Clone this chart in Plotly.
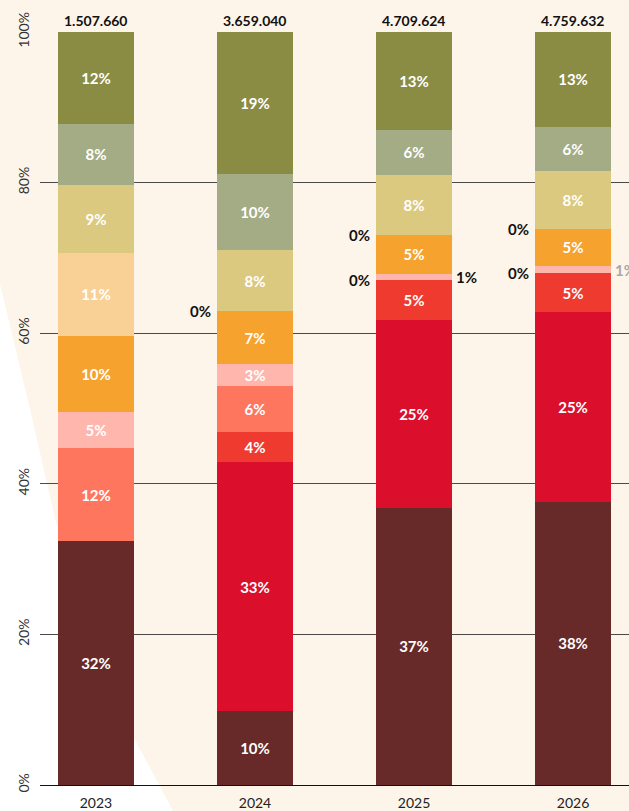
import plotly.graph_objects as go

# ---------------- data ----------------
years = ["2023", "2024", "2025", "2026"]
totals = [1507660, 3659040, 4709624, 4759632]

# series, bottom to top (percent share of each year's total)
s_brown = [32.4, 9.8, 36.8, 37.6]
s_crimson = [None, 33.1, 25.0, 25.2]
s_red = [None, 4.0, 5.2, 5.2]
s_salmon = [12.3, 6.1, 0, 0]
s_pink = [4.9, 2.9, 0.9, 0.9]
s_orange = [10.0, 7.0, 5.2, 5.0]
s_peach = [11.1, 0, 0, 0]
s_yellow = [9.0, 8.1, 7.9, 7.7]
s_sage = [8.1, 10.1, 6.0, 5.8]
s_olive = [12.2, 18.9, 13.0, 12.6]

series = [s_brown, s_crimson, s_red, s_salmon, s_pink,
          s_orange, s_peach, s_yellow, s_sage, s_olive]
names = ["Serie 1", "Serie 2", "Serie 3", "Serie 4", "Serie 5",
         "Serie 6", "Serie 7", "Serie 8", "Serie 9", "Serie 10"]
colors = ["#682A28", "#DB0E2C", "#EE3A2F", "#FF765F", "#FFB7AD",
          "#F6A22E", "#F9D196", "#DBC97F", "#A4AC85", "#8A8C43"]
small_label_colors = ["#111111", "#111111", "#111111", "#A9A9A9"]

# ---------------- style ----------------
FONT = "Lato"
BAR_W = 0.478
CREAM = "#FDF5EA"
W, H = 629, 811
ML, MR, MT, MB = 40, 0, 32, 24

fig = go.Figure()

for name, vals, col in zip(names, series, colors):
    txt = [f"{round(v)}%" if (v is not None and v >= 2) else "" for v in vals]
    fig.add_trace(go.Bar(
        x=list(range(len(years))), y=vals, name=name, width=BAR_W,
        marker=dict(color=col, line=dict(width=0)),
        text=txt, textposition="inside", insidetextanchor="middle",
        textangle=0, constraintext="none",
        textfont=dict(color="white", family=FONT, size=15, weight="bold"),
        showlegend=False, hoverinfo="y+name",
    ))

annotations = []
# totals on top
for i, t in enumerate(totals):
    annotations.append(dict(
        x=i, y=100, xref="x", yref="y", yanchor="bottom", xanchor="center",
        yshift=1, showarrow=False,
        text=f"<b>{t:,}</b>".replace(",", "."),
        font=dict(family=FONT, size=14, color="#111111"),
    ))

# zero labels (left) and tiny labels (right)
for i in range(len(years)):
    cum = 0.0
    for vals in series:
        v = vals[i]
        if v is None:
            continue
        if v == 0:
            annotations.append(dict(
                x=i - BAR_W / 2, y=cum, xref="x", yref="y",
                xanchor="right", yanchor="middle", xshift=-4, showarrow=False,
                text="<b>0%</b>",
                font=dict(family=FONT, size=15, color="#111111"),
            ))
        elif v < 2:
            annotations.append(dict(
                x=i + BAR_W / 2, y=cum + v / 2, xref="x", yref="y",
                xanchor="left", yanchor="middle", xshift=2, showarrow=False,
                text=f"<b>{round(v)}%</b>",
                font=dict(family=FONT, size=15, color=small_label_colors[i]),
            ))
        cum += v

# white curved area on the left (background decoration)
pw, ph = W - ML - MR, H - MT - MB
pts = [(-60, 260), (0, 285), (30, 410), (55, 520), (95, 635),
       (134, 740), (172, 811), (185, 840), (-60, 840)]
def to_paper(px, py):
    return ((px - ML) / pw, (H - MB - py) / ph)
path = ""
for k, (px, py) in enumerate(pts):
    xp, yp = to_paper(px, py)
    path += ("M" if k == 0 else "L") + f"{xp:.4f},{yp:.4f} "
path += "Z"

fig.update_layout(
    width=W, height=H,
    margin=dict(l=ML, r=MR, t=MT, b=MB, pad=0),
    paper_bgcolor=CREAM, plot_bgcolor="rgba(0,0,0,0)",
    barmode="stack",
    uniformtext=dict(minsize=15, mode="show"),
    annotations=annotations,
    shapes=[dict(type="path", xref="paper", yref="paper", path=path,
                 fillcolor="white", line=dict(width=0), layer="below")],
    font=dict(family=FONT),
)

fig.update_xaxes(
    range=[-0.352, 3.352], tickmode="array",
    tickvals=list(range(len(years))), ticktext=years,
    showgrid=False, zeroline=False, showline=False, ticks="",
    ticklabelstandoff=8,
    tickfont=dict(family=FONT, size=14, color="#222222"),
)
fig.update_yaxes(
    range=[0, 100], tickmode="array",
    tickvals=[0, 20, 40, 60, 80, 100],
    ticktext=["0%", "20%", "40%", "60%", "80%", "100%"],
    tickangle=-90, showgrid=True, gridcolor="#4a4a4a", gridwidth=1,
    zeroline=True, zerolinecolor="#111111", zerolinewidth=1,
    showline=False, ticks="", ticklabelstandoff=7,
    tickfont=dict(family=FONT, size=14, color="#333333"),
)

fig.write_html(
    "out.html",
    config={"displayModeBar": False},
    post_script="document.body.style.margin='0';"
                "document.body.style.overflow='hidden';"
                f"document.body.style.background='{CREAM}';",
)
